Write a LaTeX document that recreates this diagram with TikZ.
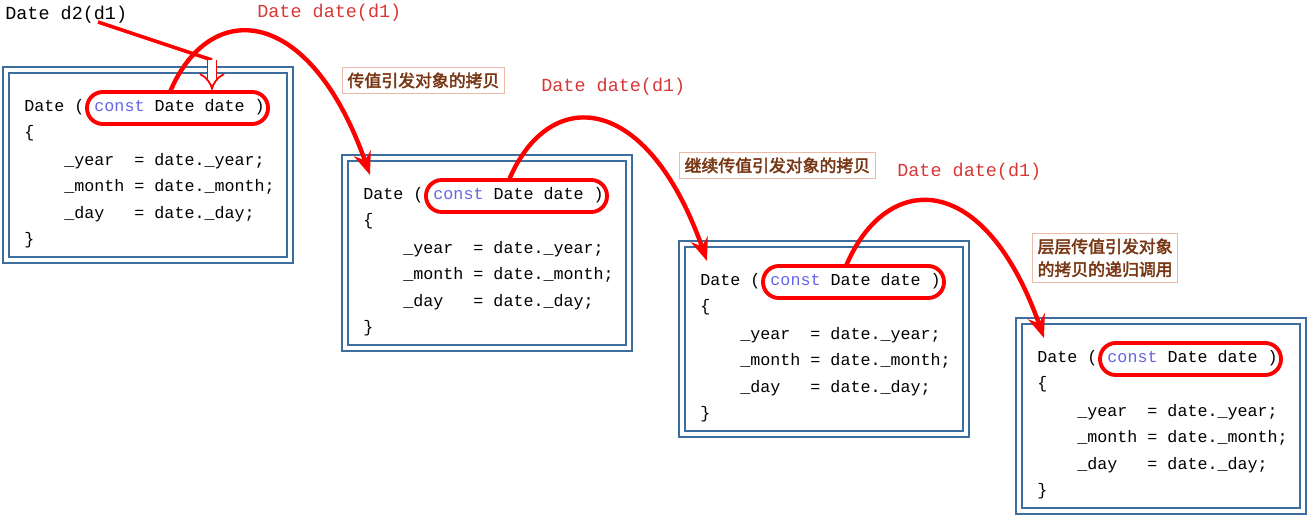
\documentclass[tikz,border=0pt]{standalone}
\usepackage{fontspec}
\setmonofont{Liberation Mono}
\newfontfamily\cjk[AutoFakeBold=2.5]{Noto Sans CJK SC}
\usetikzlibrary{positioning,calc,arrows.meta}
\definecolor{frameblue}{RGB}{60,110,160}
\definecolor{kwblue}{RGB}{100,100,230}
\definecolor{callred}{RGB}{215,55,55}
\definecolor{notebrown}{RGB}{120,55,20}
\definecolor{noteline}{RGB}{235,185,165}
\tikzset{
  codeline/.style={anchor=west, inner sep=0, font=\ttfamily\fontsize{9.5}{11}\selectfont},
  parambox/.style={draw=red, line width=2.2pt, rounded corners=9pt},
  callarrow/.style={draw=red, line width=2.5pt, -{Stealth[length=13pt,width=10pt]}},
  calllabel/.style={text=callred, font=\ttfamily\fontsize{10.5}{12}\selectfont, inner sep=0},
  notebox/.style={draw=noteline, fill=white, text=notebrown, inner sep=3pt, align=left,
    font=\cjk\bfseries\fontsize{9.6}{11}\selectfont}
}
\begin{document}
\begin{tikzpicture}[x=0.02cm,y=-0.02cm]
  \useasboundingbox (0,0) rectangle (1312,517);

  % code boxes
  \foreach \i/\bx/\by in {1/3/67, 2/342/155, 3/679/241, 4/1016/318} {
    \draw[frameblue, line width=1.6pt] (\bx,\by) rectangle ++(290,196);
    \draw[frameblue, line width=1.6pt] (\bx+6,\by+6) rectangle ++(278,184);
    \node[codeline] (d\i) at (\bx+21,\by+40) {Date ( \textcolor{kwblue}{const} Date date  )};
    \node[codeline] at (\bx+21,\by+66) {\{};
    \node[codeline] at (\bx+61,\by+94) {\_year~~=~date.\_year;};
    \node[codeline] at (\bx+61,\by+120) {\_month~=~date.\_month;};
    \node[codeline] at (\bx+61,\by+147) {\_day~~~=~date.\_day;};
    \node[codeline] at (\bx+21,\by+173) {\}};
    \draw[parambox] (\bx+84,\by+25) rectangle (\bx+265,\by+57);
    \coordinate (p\i) at (\bx+167,\by+25);
    \coordinate (t\i) at (\bx+28,\by+20);
  }

  % caller
  \node[anchor=west, inner sep=0, font=\ttfamily\fontsize{10.5}{12}\selectfont] (call) at (5,15) {Date d2(d1)};
  \coordinate (hit) at (212,60);
  \draw[red, line width=2pt] (98,22) -- (hit);
  \draw[red, line width=1pt, double distance=4pt, -{Implies[length=8pt]}] (hit) -- ++(0,30);

  % recursive calls
  \draw[callarrow] (p1) .. controls +(40,-95) and +(-60,-170) .. (t2);
  \draw[callarrow] (p2) .. controls +(40,-95) and +(-60,-170) .. (t3);
  \draw[callarrow] (p3) .. controls +(40,-95) and +(-60,-170) .. (t4);
  \node[calllabel, anchor=west] (l1) at (257,13) {Date date(d1)};
  \node[calllabel, anchor=west] (l2) at (541,87) {Date date(d1)};
  \node[calllabel, anchor=west] (l3) at (897,172) {Date date(d1)};

  % notes
  \node[notebox, anchor=north west] (n1) at (342,67) {传值引发对象的拷贝};
  \node[notebox, anchor=north west] (n2) at (679,152) {继续传值引发对象的拷贝};
  \node[notebox, anchor=north west, font=\cjk\bfseries\fontsize{9.6}{13}\selectfont] (n3) at (1032,233) {层层传值引发对象\\的拷贝的递归调用};
\end{tikzpicture}
\end{document}
